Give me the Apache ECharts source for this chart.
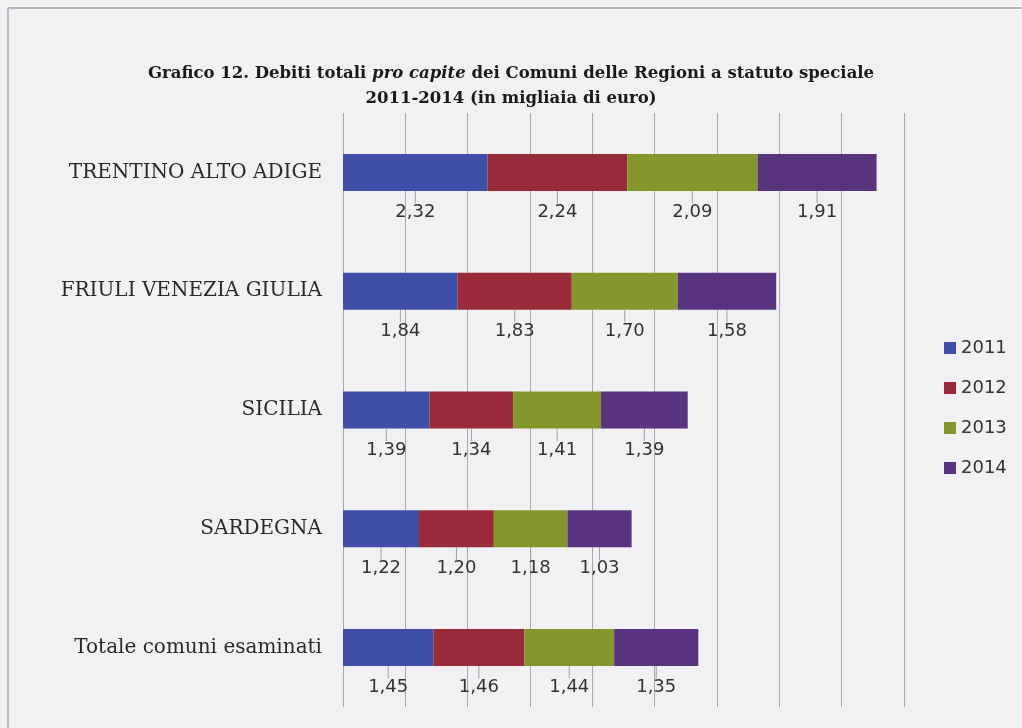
<!DOCTYPE html>
<html>
<head>
    <meta charset="utf-8">
    <title>Grafico 12</title>
    <script src="https://cdn.jsdelivr.net/npm/echarts@6/dist/echarts.min.js"></script>
    <style>
        html, body { margin: 0; padding: 0; background: #f1f1f3; }
    </style>
</head>
<body>
    <div id="main" style="width:1022px;height:728px;"></div>
    <script type="text/javascript">
        // data (thousands of euro per inhabitant)
        var regions = ['TRENTINO ALTO ADIGE', 'FRIULI VENEZIA GIULIA', 'SICILIA', 'SARDEGNA', 'Totale comuni esaminati'];
        var years = ['2011', '2012', '2013', '2014'];
        var v2011 = [2.32, 1.84, 1.39, 1.22, 1.45];
        var v2012 = [2.24, 1.83, 1.34, 1.20, 1.46];
        var v2013 = [2.09, 1.70, 1.41, 1.18, 1.44];
        var v2014 = [1.91, 1.58, 1.39, 1.03, 1.35];
        var colors = ['#3f4ea6', '#982a39', '#83972c', '#58347f'];

        var myChart = echarts.init(document.getElementById('main'));

        var serif = '"DejaVu Serif", "Liberation Serif", serif';
        var sans = '"DejaVu Sans", sans-serif';

        function makeSeries(name, data, idx) {
            return {
                name: name,
                type: 'bar',
                stack: 'tot',
                barWidth: 37,
                data: data,
                itemStyle: { color: colors[idx] },
                label: {
                    show: true,
                    position: 'inside',
                    color: '#333',
                    fontFamily: sans,
                    fontSize: 18,
                    formatter: function (p) {
                        return p.value.toFixed(2).replace('.', ',');
                    }
                },
                labelLayout: { dy: 40 },
                labelLine: {
                    show: true,
                    length2: 0,
                    lineStyle: { color: '#a0a0a8', width: 1 }
                }
            };
        }

        var option = {
            backgroundColor: '#f1f1f3',
            animation: false,
            title: [
                {
                    left: 'center',
                    top: 60,
                    text: '{a|Grafico 12. Debiti totali }{i|pro capite}{a| dei Comuni delle Regioni a statuto speciale}',
                    textStyle: {
                        rich: {
                            a: { fontFamily: serif, fontWeight: 'bold', fontSize: 16.5, color: '#1a1a1a' },
                            i: { fontFamily: serif, fontWeight: 'bold', fontStyle: 'italic', fontSize: 16.5, color: '#1a1a1a' }
                        }
                    }
                },
                {
                    left: 'center',
                    top: 85,
                    text: '2011-2014 (in migliaia di euro)',
                    textStyle: { fontFamily: serif, fontWeight: 'bold', fontSize: 16.5, color: '#1a1a1a' }
                }
            ],
            legend: {
                orient: 'vertical',
                left: 939,
                top: 334,
                icon: 'rect',
                itemWidth: 12,
                itemHeight: 12,
                itemGap: 22,
                data: years,
                textStyle: { fontFamily: sans, fontSize: 18, color: '#333' }
            },
            grid: {
                left: 343,
                right: 118,
                top: 113,
                bottom: 21,
                containLabel: false
            },
            xAxis: {
                type: 'value',
                min: 0,
                max: 9,
                interval: 1,
                axisLabel: { show: false },
                axisLine: { show: false },
                axisTick: { show: false },
                splitLine: { show: true, lineStyle: { color: '#a8a8b0', width: 1 } }
            },
            yAxis: {
                type: 'category',
                inverse: true,
                data: regions,
                axisLine: { show: false },
                axisTick: { show: false },
                axisLabel: {
                    margin: 21,
                    fontFamily: serif,
                    fontSize: 20,
                    color: '#2a2a2a'
                }
            },
            graphic: [
                { type: 'line', shape: { x1: 8, y1: 8, x2: 1022, y2: 8 }, style: { stroke: '#b8b8be', lineWidth: 2 } },
                { type: 'line', shape: { x1: 8, y1: 8, x2: 8, y2: 728 }, style: { stroke: '#b8b8be', lineWidth: 2 } }
            ],
            series: [
                makeSeries(years[0], v2011, 0),
                makeSeries(years[1], v2012, 1),
                makeSeries(years[2], v2013, 2),
                makeSeries(years[3], v2014, 3)
            ]
        };

        myChart.setOption(option);
    </script>
</body>
</html>
